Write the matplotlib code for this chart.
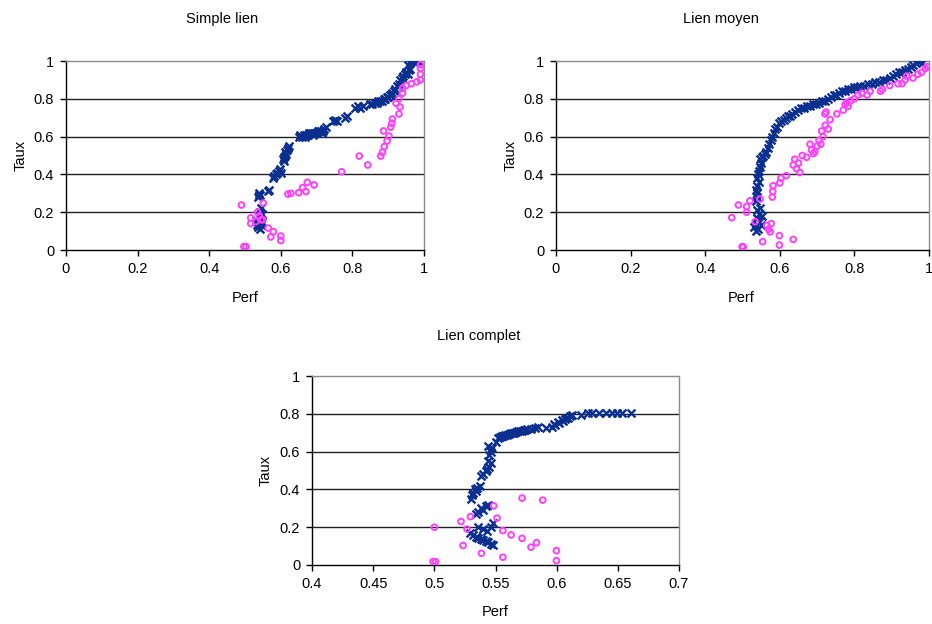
import matplotlib
matplotlib.use("Agg")
import matplotlib.pyplot as plt
from matplotlib.ticker import FixedLocator

plt.rcParams['font.family'] = ['Liberation Sans', 'DejaVu Sans']

# ---- Simple lien ----
simple_blue_perf = [0.530, 0.533, 0.535, 0.537, 0.538, 0.540, 0.541, 0.542, 0.543, 0.545, 0.546, 0.547, 0.548,
                    0.536, 0.538, 0.540, 0.542, 0.563, 0.566,
                    0.578, 0.582, 0.586, 0.590, 0.594, 0.598, 0.600,
                    0.606, 0.608, 0.611, 0.613, 0.617, 0.620, 0.623, 0.615, 0.609,
                    0.652, 0.658, 0.664, 0.670, 0.676, 0.682, 0.688, 0.694, 0.700, 0.706, 0.712, 0.718, 0.722, 0.726,
                    0.655, 0.667, 0.679, 0.691, 0.703, 0.715,
                    0.746, 0.752, 0.758, 0.778, 0.784,
                    0.808, 0.815, 0.822, 0.830,
                    0.850, 0.856, 0.862, 0.868, 0.872, 0.877, 0.882, 0.887, 0.892, 0.896, 0.900, 0.904, 0.908, 0.912, 0.916, 0.920,
                    0.925, 0.930, 0.934, 0.938, 0.942, 0.946, 0.950, 0.954, 0.958, 0.962,
                    0.955, 0.960, 0.965, 0.970, 0.975, 0.980, 0.985]
simple_blue_taux = [0.16, 0.13, 0.12, 0.15, 0.18, 0.14, 0.20, 0.11, 0.17, 0.22, 0.13, 0.19, 0.15,
                    0.28, 0.29, 0.30, 0.29, 0.31, 0.32,
                    0.38, 0.39, 0.40, 0.41, 0.42, 0.43, 0.41,
                    0.48, 0.49, 0.50, 0.52, 0.53, 0.54, 0.55, 0.51, 0.47,
                    0.60, 0.60, 0.61, 0.61, 0.61, 0.62, 0.62, 0.62, 0.62, 0.63, 0.63, 0.63, 0.64, 0.65,
                    0.61, 0.60, 0.62, 0.61, 0.63, 0.62,
                    0.68, 0.69, 0.68, 0.70, 0.71,
                    0.75, 0.76, 0.75, 0.76,
                    0.77, 0.77, 0.78, 0.78, 0.79, 0.79, 0.79, 0.80, 0.80, 0.81, 0.81, 0.82, 0.82, 0.83, 0.84, 0.85,
                    0.87, 0.88, 0.90, 0.91, 0.92, 0.93, 0.94, 0.93, 0.95, 0.96,
                    0.98, 0.99, 1.00, 1.00, 0.99, 1.00, 1.00]
simple_pink_perf = [0.490, 0.497, 0.503, 0.516, 0.516, 0.530, 0.535, 0.540, 0.545, 0.550, 0.551, 0.565, 0.572, 0.579,
                    0.600, 0.600, 0.620, 0.628, 0.650, 0.661, 0.670, 0.674, 0.693, 0.770, 0.819, 0.843,
                    0.879, 0.884, 0.889, 0.897, 0.902, 0.887, 0.907, 0.910, 0.912, 0.930, 0.933,
                    0.922, 0.930, 0.940, 0.940, 0.950, 0.965, 0.980, 0.990, 0.990, 0.990, 0.990]
simple_pink_taux = [0.238, 0.018, 0.018, 0.14, 0.17, 0.15, 0.20, 0.18, 0.16, 0.16, 0.248, 0.116, 0.069, 0.097,
                    0.074, 0.050, 0.296, 0.300, 0.303, 0.330, 0.309, 0.358, 0.344, 0.414, 0.497, 0.450,
                    0.497, 0.517, 0.547, 0.577, 0.603, 0.630, 0.650, 0.670, 0.693, 0.720, 0.757,
                    0.776, 0.800, 0.830, 0.855, 0.870, 0.880, 0.890, 0.900, 0.930, 0.960, 0.980]

# ---- Lien moyen ----
moyen_blue_perf = [0.532, 0.535, 0.537, 0.539, 0.541, 0.543, 0.545, 0.547, 0.549, 0.551, 0.540,
                   0.535, 0.538, 0.540, 0.537, 0.540, 0.543, 0.538, 0.541, 0.544, 0.547, 0.550, 0.546,
                   0.552, 0.556, 0.560, 0.564, 0.568,
                   0.572, 0.576, 0.580, 0.584, 0.588, 0.592,
                   0.598, 0.604, 0.610, 0.616, 0.622, 0.628, 0.634, 0.640,
                   0.648, 0.656, 0.664, 0.672, 0.680, 0.688, 0.696, 0.704, 0.712, 0.720,
                   0.728, 0.736, 0.744, 0.752, 0.760, 0.768, 0.776, 0.784, 0.792, 0.800, 0.808,
                   0.816, 0.826, 0.836, 0.846, 0.856, 0.866, 0.876, 0.886, 0.896,
                   0.904, 0.912, 0.920, 0.928, 0.936, 0.944, 0.952,
                   0.958, 0.964, 0.970, 0.976, 0.980]
moyen_blue_taux = [0.12, 0.10, 0.14, 0.17, 0.11, 0.15, 0.19, 0.22, 0.13, 0.18, 0.21,
                   0.26, 0.28, 0.30, 0.32, 0.34, 0.36, 0.38, 0.40, 0.42, 0.44, 0.46, 0.48,
                   0.49, 0.50, 0.51, 0.52, 0.54,
                   0.56, 0.58, 0.60, 0.62, 0.64, 0.65,
                   0.67, 0.68, 0.69, 0.70, 0.71, 0.71, 0.72, 0.73,
                   0.74, 0.75, 0.75, 0.76, 0.76, 0.77, 0.77, 0.78, 0.79, 0.79,
                   0.80, 0.81, 0.82, 0.82, 0.83, 0.84, 0.84, 0.85, 0.85, 0.86, 0.86,
                   0.87, 0.87, 0.88, 0.88, 0.89, 0.89, 0.90, 0.90, 0.91,
                   0.92, 0.93, 0.94, 0.94, 0.95, 0.96, 0.97,
                   0.98, 0.99, 1.00, 1.00, 0.99]
moyen_pink_perf = [0.471, 0.489, 0.499, 0.502, 0.511, 0.511, 0.520, 0.534, 0.547, 0.554, 0.565, 0.570, 0.577, 0.574,
                   0.599, 0.599, 0.636,
                   0.580, 0.581, 0.582, 0.600, 0.603, 0.617, 0.636, 0.640, 0.645, 0.650, 0.654, 0.660, 0.672,
                   0.685, 0.690, 0.694, 0.681, 0.700, 0.705, 0.710, 0.712, 0.716, 0.722, 0.730, 0.735, 0.721,
                   0.724, 0.753, 0.770, 0.775, 0.780, 0.783, 0.790, 0.800, 0.810, 0.820, 0.834, 0.842, 0.870,
                   0.875, 0.895, 0.917, 0.928, 0.936, 0.940, 0.957, 0.970, 0.980, 0.990, 0.995]
moyen_pink_taux = [0.171, 0.238, 0.018, 0.016, 0.20, 0.23, 0.26, 0.15, 0.27, 0.044, 0.13, 0.11, 0.14, 0.096,
                   0.076, 0.026, 0.056,
                   0.28, 0.31, 0.34, 0.355, 0.38, 0.393, 0.45, 0.48, 0.43, 0.46, 0.41, 0.50, 0.49,
                   0.53, 0.51, 0.52, 0.56, 0.55, 0.58, 0.56, 0.63, 0.60, 0.66, 0.64, 0.69, 0.72,
                   0.73, 0.72, 0.74, 0.77, 0.78, 0.76, 0.79, 0.80, 0.82, 0.83, 0.82, 0.84, 0.84,
                   0.85, 0.87, 0.88, 0.88, 0.90, 0.92, 0.91, 0.93, 0.94, 0.96, 0.97]

# ---- Lien complet ----
complet_blue_perf = [0.5295, 0.532, 0.534, 0.536, 0.538, 0.540, 0.542, 0.544, 0.546, 0.548,
                     0.536, 0.540, 0.543, 0.546, 0.548,
                     0.534, 0.536, 0.538, 0.540, 0.542, 0.544,
                     0.530, 0.531, 0.532, 0.533, 0.534, 0.535, 0.537,
                     0.538, 0.540, 0.542, 0.543, 0.545, 0.546, 0.544,
                     0.545, 0.546, 0.547, 0.544,
                     0.550, 0.552, 0.555, 0.558, 0.561, 0.564, 0.567, 0.570, 0.573, 0.576, 0.579, 0.582, 0.585, 0.591,
                     0.5535, 0.5565, 0.5595, 0.5625, 0.5655, 0.5685, 0.5715, 0.5745,
                     0.596, 0.599, 0.602, 0.605, 0.607, 0.609, 0.611, 0.6127, 0.6195,
                     0.598, 0.601, 0.604, 0.608,
                     0.626, 0.629, 0.6345, 0.640, 0.6454, 0.6495, 0.6536, 0.6604]
complet_blue_taux = [0.17, 0.16, 0.15, 0.145, 0.14, 0.13, 0.125, 0.12, 0.11, 0.105,
                     0.20, 0.19, 0.18, 0.20, 0.22,
                     0.27, 0.28, 0.30, 0.29, 0.31, 0.32,
                     0.35, 0.37, 0.38, 0.40, 0.39, 0.41, 0.42,
                     0.47, 0.48, 0.50, 0.51, 0.52, 0.54, 0.55,
                     0.58, 0.60, 0.62, 0.63,
                     0.65, 0.67, 0.68, 0.69, 0.695, 0.70, 0.705, 0.71, 0.715, 0.72, 0.72, 0.725, 0.73, 0.725,
                     0.675, 0.685, 0.69, 0.70, 0.70, 0.71, 0.71, 0.715,
                     0.73, 0.74, 0.75, 0.76, 0.77, 0.78, 0.79, 0.796, 0.796,
                     0.745, 0.755, 0.765, 0.78,
                     0.802, 0.805, 0.805, 0.805, 0.805, 0.805, 0.805, 0.805]
complet_pink_perf = [0.500, 0.499, 0.501, 0.5218, 0.5235, 0.5267, 0.5295, 0.5385, 0.5485, 0.5513, 0.556, 0.556,
                     0.5627, 0.5717, 0.5717, 0.579, 0.5835, 0.5886, 0.5998, 0.5998]
complet_pink_taux = [0.20, 0.018, 0.018, 0.23, 0.103, 0.19, 0.256, 0.062, 0.313, 0.248, 0.182, 0.041,
                     0.159, 0.354, 0.141, 0.094, 0.118, 0.343, 0.076, 0.023]

BLUE = '#0a2f8f'
PINK = '#ff40ff'
W, H = 932, 624

fig = plt.figure(figsize=(W / 100, H / 100), dpi=100)


def px_axes(left, top, right, bottom):
    return fig.add_axes([left / W, 1 - bottom / H, (right - left) / W, (bottom - top) / H])


def px_text(x, y, s, **kw):
    fig.text(x / W, 1 - y / H, s, ha='center', va='center', fontsize=10.5, **kw)


def style(ax, xlim, xticks, xlabels):
    ax.set_xlim(*xlim)
    ax.set_ylim(0, 1)
    ax.xaxis.set_major_locator(FixedLocator(xticks))
    ax.set_xticklabels(xlabels)
    yt = [0, 0.2, 0.4, 0.6, 0.8, 1]
    ax.yaxis.set_major_locator(FixedLocator(yt))
    ax.set_yticklabels(['0', '0.2', '0.4', '0.6', '0.8', '1'])
    for y in [0.2, 0.4, 0.6, 0.8]:
        ax.axhline(y, color='#202020', lw=1.0, zorder=1)
    for side in ['left', 'bottom']:
        ax.spines[side].set_color('black')
        ax.spines[side].set_linewidth(1.0)
    for side in ['top', 'right']:
        ax.spines[side].set_color('#8a8a8a')
        ax.spines[side].set_linewidth(1.0)
    ax.tick_params(direction='out', length=4.5, width=1.0, labelsize=10.5, pad=4)


def draw(ax, bp, bt, pp, pt):
    ax.scatter(bp, bt, marker='x', s=32, color=BLUE, linewidths=1.7, zorder=3)
    ax.scatter(pp, pt, marker='o', s=17, facecolors='none', edgecolors=PINK, linewidths=1.4, zorder=4)


ax1 = px_axes(66, 61, 424, 250)
style(ax1, (0, 1), [0, 0.2, 0.4, 0.6, 0.8, 1], ['0', '0.2', '0.4', '0.6', '0.8', '1'])
draw(ax1, simple_blue_perf, simple_blue_taux, simple_pink_perf, simple_pink_taux)

ax2 = px_axes(556, 61, 929, 250)
style(ax2, (0, 1), [0, 0.2, 0.4, 0.6, 0.8, 1], ['0', '0.2', '0.4', '0.6', '0.8', '1'])
draw(ax2, moyen_blue_perf, moyen_blue_taux, moyen_pink_perf, moyen_pink_taux)

ax3 = px_axes(312, 376, 679, 565)
style(ax3, (0.4, 0.7), [0.4, 0.45, 0.5, 0.55, 0.6, 0.65, 0.7],
      ['0.4', '0.45', '0.5', '0.55', '0.6', '0.65', '0.7'])
draw(ax3, complet_blue_perf, complet_blue_taux, complet_pink_perf, complet_pink_taux)

px_text(222, 19, 'Simple lien')
px_text(721, 19, 'Lien moyen')
px_text(479, 336, 'Lien complet')
px_text(245, 298, 'Perf')
px_text(741, 298, 'Perf')
px_text(495, 612, 'Perf')
px_text(21, 155, 'Taux', rotation=90)
px_text(511, 155, 'Taux', rotation=90)
px_text(266, 470, 'Taux', rotation=90)

fig.savefig('out.png', dpi=100)
